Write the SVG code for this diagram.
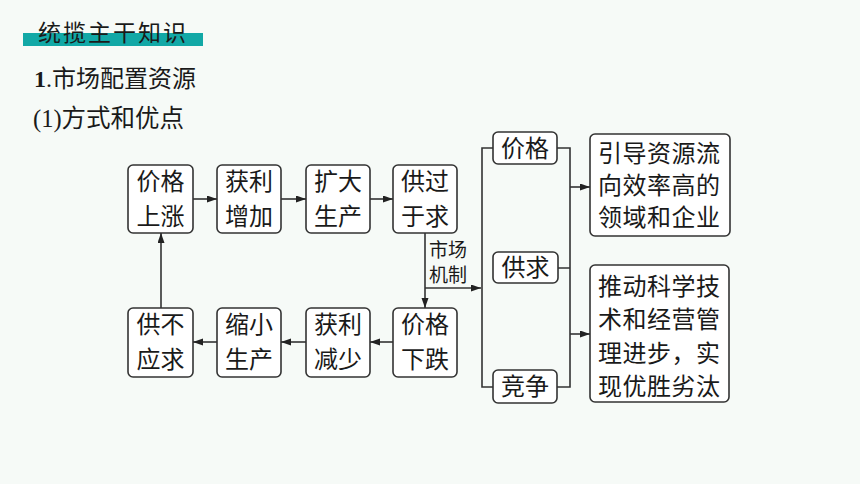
<svg xmlns="http://www.w3.org/2000/svg" width="860" height="484" viewBox="0 0 860 484">
<defs>
<marker id="arr" markerWidth="11" markerHeight="8" refX="10" refY="3.5" orient="auto" markerUnits="userSpaceOnUse">
<path d="M0,0 L10,3.5 L0,7 z" fill="#222"/>
</marker>
<style>
.bx{fill:#fff;stroke:#333;stroke-width:1.6}
.t{font-family:"Noto Sans CJK SC","Noto Sans",sans-serif;font-size:24px;fill:#1a1a1a}
.c{text-anchor:middle}
.s{font-family:"Liberation Serif",serif}
.r{letter-spacing:0.5px}
.ln{fill:none;stroke:#333;stroke-width:1.6}
.ar{fill:none;stroke:#333;stroke-width:1.6;marker-end:url(#arr)}
</style>
</defs>
<rect width="860" height="484" fill="#f6faf7"/>
<g id="header">
<rect x="23" y="33" width="180" height="13" fill="#12a8a6"/>
<text x="38" y="41" class="t" style="font-size:23px;letter-spacing:2px">统揽主干知识</text>
<text x="34" y="87" class="t"><tspan class="s" font-weight="bold">1</tspan><tspan class="s">.</tspan>市场配置资源</text>
<text x="33" y="127" class="t" style="font-size:24.5px"><tspan class="s">(1)</tspan>方式和优点</text>
</g>
<g id="n1"><rect class="bx" x="128" y="165" width="65" height="68" rx="5"/><text class="t c" x="160.5" y="190">价格</text><text class="t c" x="160.5" y="225">上涨</text></g>
<g id="n2"><rect class="bx" x="217" y="165" width="64" height="68" rx="5"/><text class="t c" x="249" y="190">获利</text><text class="t c" x="249" y="225">增加</text></g>
<g id="n3"><rect class="bx" x="306" y="165" width="64" height="68" rx="5"/><text class="t c" x="338" y="190">扩大</text><text class="t c" x="338" y="225">生产</text></g>
<g id="n4"><rect class="bx" x="393" y="165" width="64" height="68" rx="5"/><text class="t c" x="425" y="190">供过</text><text class="t c" x="425" y="225">于求</text></g>
<g id="n5"><rect class="bx" x="393" y="308" width="64" height="69" rx="5"/><text class="t c" x="425" y="333">价格</text><text class="t c" x="425" y="368">下跌</text></g>
<g id="n6"><rect class="bx" x="306" y="308" width="64" height="69" rx="5"/><text class="t c" x="338" y="333">获利</text><text class="t c" x="338" y="368">减少</text></g>
<g id="n7"><rect class="bx" x="217" y="308" width="64" height="69" rx="5"/><text class="t c" x="249" y="333">缩小</text><text class="t c" x="249" y="368">生产</text></g>
<g id="n8"><rect class="bx" x="128" y="308" width="65" height="69" rx="5"/><text class="t c" x="160.5" y="333">供不</text><text class="t c" x="160.5" y="368">应求</text></g>
<g id="m1"><rect class="bx" x="493" y="132" width="64" height="32" rx="5"/><text class="t c" x="525" y="157">价格</text></g>
<g id="m2"><rect class="bx" x="493" y="252" width="65" height="31" rx="5"/><text class="t c" x="525.5" y="276">供求</text></g>
<g id="m3"><rect class="bx" x="493" y="370" width="64" height="33" rx="5"/><text class="t c" x="525" y="395">竞争</text></g>
<g id="r1"><rect class="bx" x="590" y="134" width="140" height="102" rx="5"/>
<text class="t r" x="598" y="162">引导资源流</text>
<text class="t r" x="598" y="194">向效率高的</text>
<text class="t r" x="598" y="226">领域和企业</text></g>
<g id="r2"><rect class="bx" x="590" y="265" width="139" height="137" rx="5"/>
<text class="t r" x="598" y="295">推动科学技</text>
<text class="t r" x="598" y="328">术和经营管</text>
<text class="t r" x="598" y="362">理进步，实</text>
<text class="t r" x="598" y="395">现优胜劣汰</text></g>
<g id="label"><text class="t" style="font-size:19px"><tspan x="429" y="257">市场</tspan><tspan x="429" y="282">机制</tspan></text></g>
<g id="connectors">
<line class="ar" x1="193" y1="199" x2="217" y2="199"/>
<line class="ar" x1="281" y1="199" x2="306" y2="199"/>
<line class="ar" x1="370" y1="199" x2="393" y2="199"/>
<line class="ar" x1="425" y1="233" x2="425" y2="308"/>
<line class="ar" x1="393" y1="342" x2="370" y2="342"/>
<line class="ar" x1="306" y1="342" x2="281" y2="342"/>
<line class="ar" x1="217" y1="342" x2="193" y2="342"/>
<line class="ar" x1="161" y1="308" x2="161" y2="233"/>
<line class="ar" x1="425" y1="288" x2="481" y2="288"/>
<path class="ln" d="M493,148 H482 V387 H493"/>
<path class="ln" d="M557,148 H570 V387 H557 M558,268 H570"/>
<line class="ar" x1="570" y1="187" x2="590" y2="187"/>
<line class="ar" x1="570" y1="334" x2="590" y2="334"/>
</g>
</svg>
